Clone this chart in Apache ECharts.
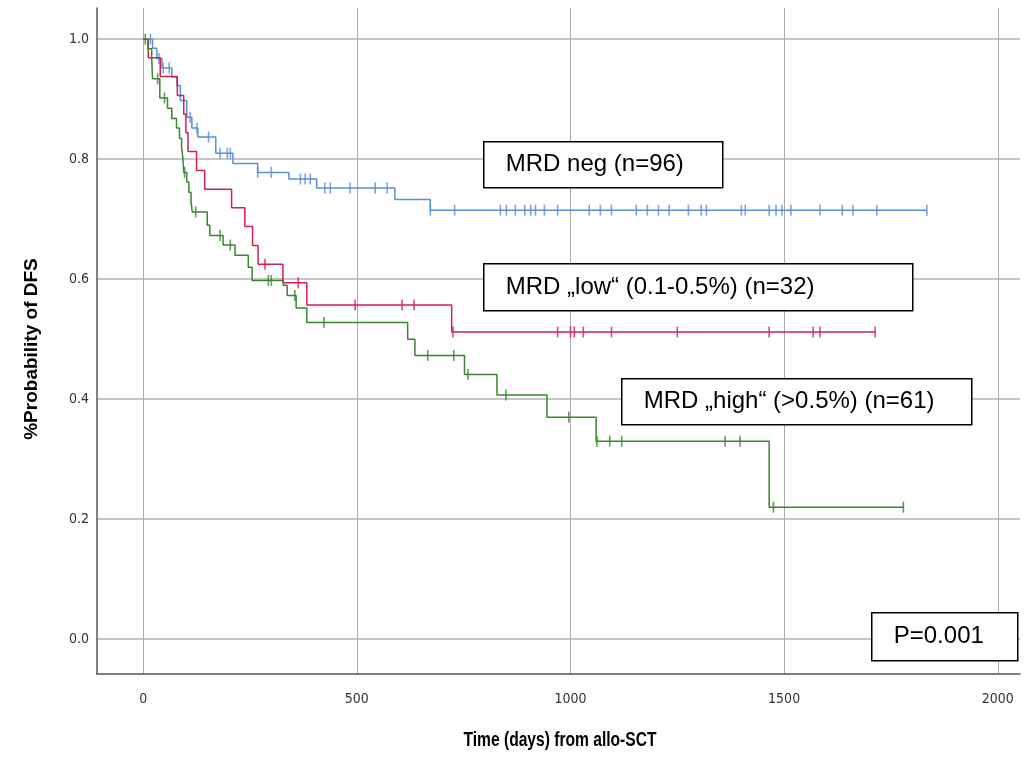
<!DOCTYPE html>
<html>
<head>
<meta charset="utf-8">
<script src="https://cdn.jsdelivr.net/npm/echarts@6/dist/echarts.min.js"></script>
<style>
  html, body { margin: 0; padding: 0; background: #fff; }
  #chart { width: 1032px; height: 761px; }
</style>
</head>
<body>
<div id="chart"></div>
<script>
// tick labels
var xTicks = [0, 500, 1000, 1500, 2000];
var yTicks = [0, 0.2, 0.4, 0.6, 0.8, 1.0];

// MRD neg (n=96): event days and survival after each step
var negDays = [0, 22, 32, 44, 67, 79, 87, 102, 114, 128, 170, 210, 268, 341, 406, 589, 672];
var negSurv = [1.0, 0.985, 0.968, 0.952, 0.937, 0.923, 0.898, 0.87, 0.852, 0.837, 0.81, 0.793, 0.778, 0.767, 0.752, 0.733, 0.715];
var negCensor = [17, 37, 47, 61, 110, 126, 153, 180, 197, 204, 268, 300, 368, 379, 391, 425, 438, 484, 543, 571,
  672, 729, 836, 850, 871, 893, 907, 918, 939, 970, 1044, 1070, 1096, 1154, 1180, 1206, 1231, 1276, 1306, 1318,
  1400, 1409, 1465, 1481, 1495, 1516, 1584, 1636, 1661, 1717, 1834];
var negEnd = 1834;

// MRD low (n=32)
var lowDays = [0, 12, 40, 80, 95, 100, 105, 125, 144, 207, 238, 256, 269, 327, 383, 722];
var lowSurv = [1.0, 0.969, 0.938, 0.906, 0.875, 0.844, 0.813, 0.781, 0.75, 0.719, 0.688, 0.656, 0.625, 0.594, 0.557, 0.512];
var lowCensor = [285, 363, 496, 606, 634, 725, 970, 1000, 1009, 1030, 1096, 1250, 1465, 1568, 1584, 1713];
var lowEnd = 1713;

// MRD high (n=61)
var highDays = [0, 11, 20, 22, 39, 57, 67, 78, 85, 90, 93, 95, 102, 107, 112, 115, 150, 156, 187, 215, 246, 255,
  328, 337, 358, 383, 619, 636, 752, 828, 945, 1060, 1465];
var highSurv = [1.0, 0.984, 0.967, 0.934, 0.902, 0.885, 0.868, 0.852, 0.835, 0.819, 0.802, 0.778, 0.762, 0.745,
  0.729, 0.712, 0.69, 0.673, 0.657, 0.64, 0.62, 0.598, 0.59, 0.573, 0.552, 0.528, 0.50, 0.473, 0.441, 0.407, 0.37, 0.33, 0.22];
var highCensor = [5, 34, 50, 97, 123, 180, 204, 293, 300, 355, 423, 666, 727, 760, 849, 996, 1062, 1092, 1120,
  1362, 1397, 1475, 1779];
var highEnd = 1779;

var BLUE = '#5a8fd8', RED = '#d2204f', GREEN = '#3a8530';
var TICK_FONT = '"DejaVu Sans Condensed", "Liberation Sans", sans-serif';
var LABEL_FONT = '"Liberation Sans", Arial, sans-serif';

function survAt(days, surv, t) {
  var s = surv[0];
  for (var i = 0; i < days.length; i++) { if (days[i] <= t) s = surv[i]; }
  return s;
}
function stepData(days, surv, end) {
  var d = days.map(function (t, i) { return [t, surv[i]]; });
  d.push([end, surv[surv.length - 1]]);
  return d;
}
function censorData(days, surv, cens) {
  return cens.map(function (t) { return [t, survAt(days, surv, t)]; });
}

function curve(name, color, days, surv, end) {
  return {
    name: name, type: 'line', step: 'end', symbol: 'none', silent: true,
    lineStyle: { color: color, width: 1.5 },
    data: stepData(days, surv, end)
  };
}
function marks(name, color, days, surv, cens) {
  return {
    name: name, type: 'scatter', symbol: 'rect', symbolSize: [1.6, 11], silent: true,
    itemStyle: { color: color },
    data: censorData(days, surv, cens)
  };
}

function box(x, y, w, h, label) {
  return {
    type: 'group', left: x, top: y, z: 100,
    children: [
      { type: 'rect', z: 100, shape: { x: 0, y: 0, width: w, height: h },
        style: { fill: '#fff', stroke: '#000', lineWidth: 1.5 } },
      { type: 'text', z: 101, x: 22, y: h / 2,
        style: { text: label, font: '24px ' + LABEL_FONT, fill: '#000', verticalAlign: 'middle' } }
    ]
  };
}

var chart = echarts.init(document.getElementById('chart'));
chart.setOption({
  animation: false,
  backgroundColor: '#fff',
  grid: { left: 97, right: 12, top: 8, bottom: 87 },
  xAxis: {
    type: 'value', min: -108, max: 2052,
    axisLine: { show: true, onZero: false, lineStyle: { color: '#555', width: 1.5 } },
    axisTick: { show: false, customValues: xTicks },
    axisLabel: { customValues: xTicks, margin: 18, fontSize: 14, fontFamily: TICK_FONT, color: '#333',
      formatter: function (v) { return String(v); } },
    splitLine: { show: true, lineStyle: { color: '#aaaaaa', width: 1 } }
  },
  yAxis: {
    type: 'value', min: -0.058, max: 1.052,
    axisLine: { show: true, onZero: false, lineStyle: { color: '#555', width: 1.5 } },
    axisTick: { show: false, customValues: yTicks },
    axisLabel: { customValues: yTicks, margin: 8, fontSize: 14, fontFamily: TICK_FONT, color: '#333',
      formatter: function (v) { return v.toFixed(1); } },
    splitLine: { show: true, lineStyle: { color: '#c6c6c6', width: 2 } }
  },
  series: [
    curve('MRD neg', BLUE, negDays, negSurv, negEnd),
    marks('MRD neg', BLUE, negDays, negSurv, negCensor),
    curve('MRD low', RED, lowDays, lowSurv, lowEnd),
    marks('MRD low', RED, lowDays, lowSurv, lowCensor),
    curve('MRD high', GREEN, highDays, highSurv, highEnd),
    marks('MRD high', GREEN, highDays, highSurv, highCensor)
  ],
  graphic: [
    box(483, 141, 239, 46, 'MRD neg (n=96)'),
    box(483, 263, 429, 47, 'MRD \u201Elow\u201C (0.1-0.5%) (n=32)'),
    box(621, 378, 350, 46, 'MRD \u201Ehigh\u201C (>0.5%) (n=61)'),
    box(871, 612, 146, 48, 'P=0.001'),
    { type: 'text', x: 560, y: 740, scaleX: 0.78, z: 100,
      style: { text: 'Time (days) from allo-SCT', font: 'bold 20px ' + LABEL_FONT, fill: '#000',
        align: 'center', verticalAlign: 'middle' } },
    { type: 'text', x: 32, y: 349, rotation: Math.PI / 2, z: 100,
      style: { text: '%Probability of DFS', font: 'bold 19px ' + LABEL_FONT, fill: '#000',
        align: 'center', verticalAlign: 'middle' } }
  ]
});
</script>
</body>
</html>
